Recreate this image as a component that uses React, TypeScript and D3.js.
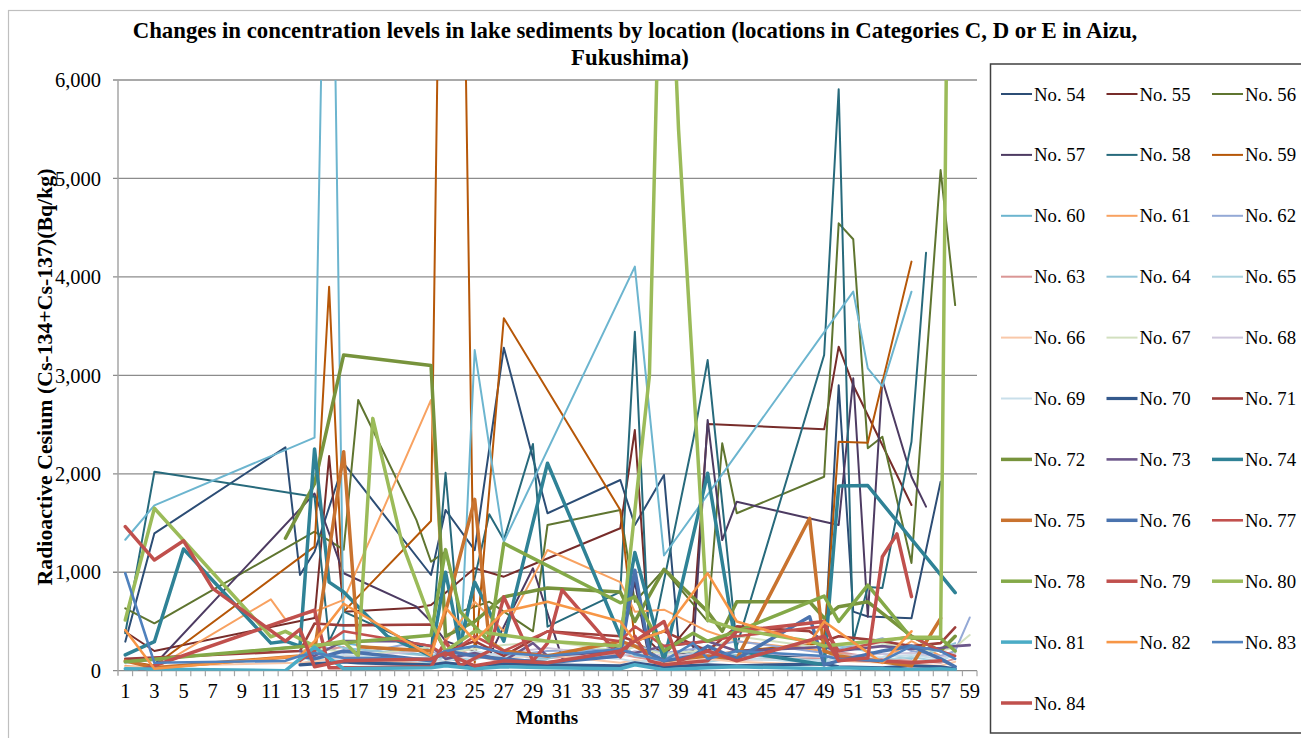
import React from 'react';
import * as d3 from 'd3';

type P = [number, number];

const months: number[] = d3.range(1, 60);
const monthLabels: number[] = months.filter((m) => m % 2 === 1);
const yTicks: number[] = [0, 1000, 2000, 3000, 4000, 5000, 6000];

const seriesNames: string[] = [
  'No. 54', 'No. 55', 'No. 56', 'No. 57', 'No. 58', 'No. 59', 'No. 60', 'No. 61', 'No. 62', 'No. 63', 'No. 64',
  'No. 65', 'No. 66', 'No. 67', 'No. 68', 'No. 69', 'No. 70', 'No. 71', 'No. 72', 'No. 73', 'No. 74', 'No. 75',
  'No. 76', 'No. 77', 'No. 78', 'No. 79', 'No. 80', 'No. 81', 'No. 82', 'No. 83', 'No. 84',
];

const s54: P[] = [[1,295],[3,1395],[12,2269],[13,972],[14,1209],[16,2107],[22,972],[23,1632],[25,1225],[27,3280],[30,1599],[35,1937],[36,1480],[38,1988],[39,300],[41,200],[43,150],[49,150],[50,2900],[51,600],[52,550],[55,532],[57,1920]];
const s55: P[] = [[1,396],[3,200],[14,535],[15,2180],[16,600],[21,640],[22,667],[25,1040],[27,955],[35,1447],[36,2445],[37,300],[38,150],[40,500],[41,2506],[49,2452],[50,3291],[51,2900],[55,1683]];
const s56: P[] = [[1,634],[3,481],[14,1412],[16,1230],[17,2750],[21,1530],[22,1107],[23,1209],[24,600],[26,700],[29,400],[30,1480],[35,1632],[36,700],[38,1030],[41,500],[42,2310],[43,1599],[49,1970],[50,4544],[51,4382],[52,2259],[53,2377],[55,1094],[57,5086],[58,3714]];
const s57: P[] = [[3,60],[14,1800],[16,990],[21,650],[22,500],[23,300],[26,150],[29,1040],[31,130],[35,250],[36,900],[37,100],[40,200],[41,2547],[42,1327],[43,1717],[49,1513],[50,1480],[51,2970],[52,548],[53,2953],[55,1970],[56,1666]];
const s58: P[] = [[1,380],[3,2021],[14,1767],[15,300],[16,600],[22,200],[23,2011],[24,300],[26,1589],[27,1330],[29,2303],[30,447],[35,800],[36,3443],[37,200],[40,2340],[41,3155],[43,250],[49,3207],[50,5905],[51,300],[52,850],[53,840],[55,2326],[56,4245]];
const s59: P[] = [[1,100],[3,50],[14,1260],[15,3900],[16,600],[22,1520],[23,12000],[24,10000],[25,80],[27,3580],[35,1632],[36,300],[38,100],[41,150],[43,200],[49,280],[50,2326],[52,2316],[55,4155]];
const s60: P[] = [[1,1330],[3,1680],[14,2367],[15,10500],[16,280],[22,150],[24,100],[25,3257],[27,1310],[36,4104],[38,1170],[51,3850],[52,3071],[53,2890],[55,3850]];
const s61: P[] = [[1,50],[3,20],[11,725],[12,522],[14,600],[16,720],[22,2750],[23,300],[25,700],[27,400],[30,1226],[35,900],[36,600],[38,620],[41,400],[43,300],[49,200],[53,100],[55,300],[57,150]];
const s62: P[] = [[1,80],[13,250],[14,270],[16,180],[18,200],[20,260],[22,210],[23,120],[25,180],[27,150],[30,200],[35,220],[36,260],[38,180],[41,240],[43,300],[49,180],[50,220],[53,330],[55,200],[57,150],[58,200],[59,540]];
const s63: P[] = [[13,150],[14,200],[16,240],[18,120],[22,100],[23,260],[25,150],[27,90],[30,130],[35,170],[36,140],[38,90],[41,160],[43,110],[49,130],[50,190],[53,120],[55,100],[57,80],[58,120]];
const s64: P[] = [[13,100],[14,180],[15,300],[16,230],[22,150],[23,180],[25,250],[27,170],[30,120],[35,300],[36,150],[38,130],[41,200],[43,160],[49,100],[50,250],[53,170],[55,120],[57,220],[58,280]];
const s65: P[] = [[13,60],[14,120],[16,100],[22,80],[23,140],[25,110],[27,200],[30,90],[35,150],[36,180],[38,120],[41,90],[43,130],[49,80],[50,160],[53,110],[55,140],[57,90],[58,180]];
const s66: P[] = [[1,40],[13,80],[14,90],[16,150],[22,60],[23,100],[25,180],[27,130],[30,160],[35,80],[36,110],[38,70],[41,120],[43,90],[49,60],[50,100],[53,80],[55,60],[57,50],[58,90]];
const s67: P[] = [[13,200],[14,230],[16,190],[18,170],[22,240],[23,180],[25,220],[27,260],[30,300],[35,200],[36,240],[38,170],[41,210],[43,350],[49,230],[50,260],[53,280],[55,220],[57,200],[58,240],[59,362]];
const s68: P[] = [[13,170],[14,150],[16,130],[22,210],[23,160],[25,140],[27,180],[30,230],[35,140],[36,200],[38,150],[41,170],[43,190],[49,140],[50,150],[53,170],[55,180],[57,140],[58,170]];
const s69: P[] = [[13,110],[14,130],[16,160],[22,120],[23,90],[25,200],[27,140],[30,170],[35,120],[36,90],[38,110],[41,140],[43,120],[49,100],[50,130],[53,140],[55,160],[57,120],[58,150]];
const s70: P[] = [[13,60],[14,70],[16,90],[17,80],[22,60],[23,80],[25,50],[27,70],[30,60],[35,50],[36,80],[38,40],[41,60],[43,50],[49,70],[50,40],[53,30],[55,50],[57,40],[58,20]];
const s71: P[] = [[1,120],[13,200],[14,480],[16,460],[22,470],[23,200],[25,300],[27,150],[30,400],[35,350],[36,300],[38,400],[41,200],[43,450],[48,400],[49,300],[50,350],[53,300],[55,250],[57,280],[58,440]];
const s72: P[] = [[12,1345],[14,1900],[16,3207],[22,3100],[23,350],[25,500],[27,750],[30,840],[35,800],[36,500],[38,1030],[41,600],[42,400],[43,700],[48,700],[49,535],[50,650],[52,700],[55,350],[57,200],[58,350]];
const s73: P[] = [[13,200],[14,150],[16,300],[20,300],[22,250],[23,120],[25,180],[27,100],[29,280],[30,150],[35,200],[36,180],[38,250],[41,300],[43,200],[49,240],[50,200],[53,250],[55,220],[57,230],[58,250],[59,260]];
const s74: P[] = [[1,160],[3,295],[5,1236],[11,280],[12,300],[13,250],[14,2252],[15,900],[16,800],[19,350],[22,150],[23,1000],[24,250],[25,900],[27,300],[30,2107],[35,350],[36,1200],[38,100],[41,2005],[43,200],[49,60],[50,1876],[52,1880],[58,793]];
const s75: P[] = [[1,100],[3,30],[13,150],[14,200],[16,2225],[17,244],[22,200],[23,600],[25,1740],[26,300],[27,200],[30,150],[35,300],[36,250],[38,100],[41,150],[43,120],[48,1548],[49,200],[50,150],[55,50],[57,532]];
const s76: P[] = [[13,150],[14,120],[16,200],[22,100],[23,200],[25,150],[27,120],[30,80],[35,150],[36,1020],[37,180],[38,100],[40,150],[41,250],[43,120],[48,548],[49,60],[50,100],[53,200],[55,250],[57,120],[58,40]];
const s77: P[] = [[13,100],[14,200],[16,400],[22,250],[23,150],[25,350],[27,200],[30,400],[35,300],[36,450],[38,250],[41,300],[43,350],[49,450],[50,200],[53,300],[55,350],[57,200],[58,150]];
const s78: P[] = [[1,90],[22,360],[23,1230],[24,600],[25,450],[26,300],[27,1294],[35,690],[36,750],[38,200],[40,380],[41,300],[43,400],[49,758],[50,500],[52,870],[55,330],[57,330],[58,200]];
const s79: P[] = [[2,0],[14,615],[15,30],[17,30],[22,40],[23,300],[24,50],[26,200],[27,750],[29,100],[30,280],[31,820],[35,140],[36,350],[37,100],[38,60],[41,100],[43,400],[49,500],[50,120],[53,100],[55,80],[57,100]];
const s80: P[] = [[1,515],[3,1650],[11,345],[12,400],[14,250],[16,300],[17,150],[18,2563],[20,1300],[22,500],[23,200],[25,400],[30,300],[35,250],[37,3000],[38,9000],[39,5500],[40,3000],[41,515],[43,420],[48,300],[49,250],[55,340],[57,340],[58,15000]];
const s81: P[] = [[1,20],[12,0],[14,240],[16,20],[22,30],[23,50],[25,20],[27,40],[30,30],[35,20],[36,60],[38,10],[41,30],[43,40],[49,20],[50,30],[53,20],[55,10],[57,20],[58,10]];
const s82: P[] = [[1,413],[3,20],[13,150],[14,300],[16,680],[22,150],[23,640],[25,300],[27,600],[30,700],[35,500],[36,300],[38,400],[41,989],[43,500],[48,280],[49,500],[53,80],[55,400]];
const s83: P[] = [[1,990],[3,80],[12,100],[13,150],[14,180],[16,130],[22,120],[23,200],[25,250],[27,180],[30,150],[35,220],[36,170],[38,100],[40,280],[41,120],[43,200],[49,150],[50,120],[53,100],[55,250],[57,200],[58,120]];
const s84: P[] = [[1,1463],[3,1124],[5,1320],[7,837],[12,300],[13,420],[14,40],[16,100],[22,120],[23,180],[25,50],[27,100],[30,80],[35,200],[36,300],[38,500],[39,100],[41,200],[43,100],[49,350],[50,100],[52,130],[53,1158],[54,1389],[55,752]];

const seriesData: P[][] = [s54, s55, s56, s57, s58, s59, s60, s61, s62, s63, s64, s65, s66, s67, s68, s69, s70, s71, s72, s73, s74, s75, s76, s77, s78, s79, s80, s81, s82, s83, s84];

const seriesColors: string[] = [
  '#2C4D75', '#772C2A', '#5F7530', '#4D3B62', '#276A7C', '#B65708', '#6CB5CF', '#F8A261', '#94A9D6', '#DA9695', '#92C5D8',
  '#ABD3DF', '#F9C8A9', '#D2E0BF', '#CEC6DC', '#C9DFEA', '#34598C', '#9D3D3A', '#77933C', '#6C578A', '#2F8296', '#C9732F',
  '#4A73AE', '#C2504D', '#84A948', '#C0504D', '#9BBB59', '#4BACC6', '#F79646', '#4F81BD', '#C0504D',
];
const seriesWidths: number[] = [
  2, 2, 2, 2, 2, 2, 2, 2, 2, 2, 2,
  2, 2, 2, 2, 2, 3.2, 2.6, 3.5, 2.6, 3.5, 3.5,
  3.5, 2.6, 3.5, 3.5, 3.5, 3.5, 2.6, 2.6, 3.5,
];

const FONT = "'Liberation Serif', 'Times New Roman', serif";

export default function App() {
  const left = 118;
  const right = 977;
  const top = 80;
  const bottom = 670.7;
  const x = d3.scaleBand<number>().domain(months).range([left, right]).paddingInner(0).paddingOuter(0);
  const cx = (m: number) => (x(m) as number) + x.bandwidth() / 2;
  const y = d3.scaleLinear().domain([0, 6000]).range([bottom, top]);
  const line = d3.line<P>().x((d) => cx(d[0])).y((d) => y(d[1]));
  const fmt = d3.format(',');

  const legendX0 = 1001;
  const legendColStep = 105.5;
  const legendY0 = 94;
  const legendRowStep = 60.9;

  return (
    <svg width={1301} height={738} style={{ position: 'absolute', left: 0, top: 0, background: '#fff' }} fontFamily={FONT}>
      <defs>
        <clipPath id="plotClip">
          <rect x={left} y={top} width={right - left} height={bottom - top} />
        </clipPath>
      </defs>
      <rect x={0} y={0} width={1301} height={738} fill="#fff" />
      <rect x={8.5} y={10.5} width={1300} height={740} fill="none" stroke="#BFBFBF" strokeWidth={1.2} />

      <text x={635} y={38} textAnchor="middle" fontWeight="bold" fontSize={22.8}>
        Changes in concentration levels in lake sediments by location (locations in Categories C, D or E in Aizu,
      </text>
      <text x={630} y={65} textAnchor="middle" fontWeight="bold" fontSize={22.8}>
        Fukushima)
      </text>

      {yTicks.map((t) => (
        <g key={t}>
          <line x1={left - 5} x2={right} y1={y(t)} y2={y(t)} stroke="#8C8C8C" strokeWidth={1.3} />
          <text x={101} y={y(t)} dy="0.35em" textAnchor="end" fontSize={20.5}>{fmt(t)}</text>
        </g>
      ))}
      <line x1={left} x2={left} y1={top} y2={bottom + 5} stroke="#A6A6A6" strokeWidth={1.5} />
      {months.map((m) => (
        <line key={'t' + m} x1={(x(m) as number) + x.bandwidth()} x2={(x(m) as number) + x.bandwidth()} y1={bottom} y2={bottom + 5.5} stroke="#A6A6A6" strokeWidth={1.2} />
      ))}
      {monthLabels.map((m) => (
        <text key={'l' + m} x={cx(m)} y={698} textAnchor="middle" fontSize={20.5}>{m}</text>
      ))}

      <g clipPath="url(#plotClip)">
        {seriesData.map((d, i) => (
          <path key={seriesNames[i]} d={line(d) || ''} fill="none" stroke={seriesColors[i]} strokeWidth={seriesWidths[i]} strokeLinejoin="round" strokeLinecap="round" />
        ))}
      </g>

      <text transform="translate(52,377) rotate(-90)" textAnchor="middle" fontWeight="bold" fontSize={21.8}>
        Radioactive Cesium (Cs-134+Cs-137)(Bq/kg)
      </text>
      <text x={547} y={724} textAnchor="middle" fontWeight="bold" fontSize={19}>Months</text>

      <rect x={990.5} y={64} width={330} height={669} fill="#fff" stroke="#404040" strokeWidth={1.5} />
      {seriesNames.map((n, i) => {
        const col = i % 3;
        const row = Math.floor(i / 3);
        const lx = legendX0 + col * legendColStep;
        const ly = legendY0 + row * legendRowStep;
        return (
          <g key={'lg' + n}>
            <line x1={lx} x2={lx + 31} y1={ly} y2={ly} stroke={seriesColors[i]} strokeWidth={seriesWidths[i]} />
            <text x={lx + 33} y={ly} dy="0.35em" fontSize={18.8}>{n}</text>
          </g>
        );
      })}
    </svg>
  );
}
